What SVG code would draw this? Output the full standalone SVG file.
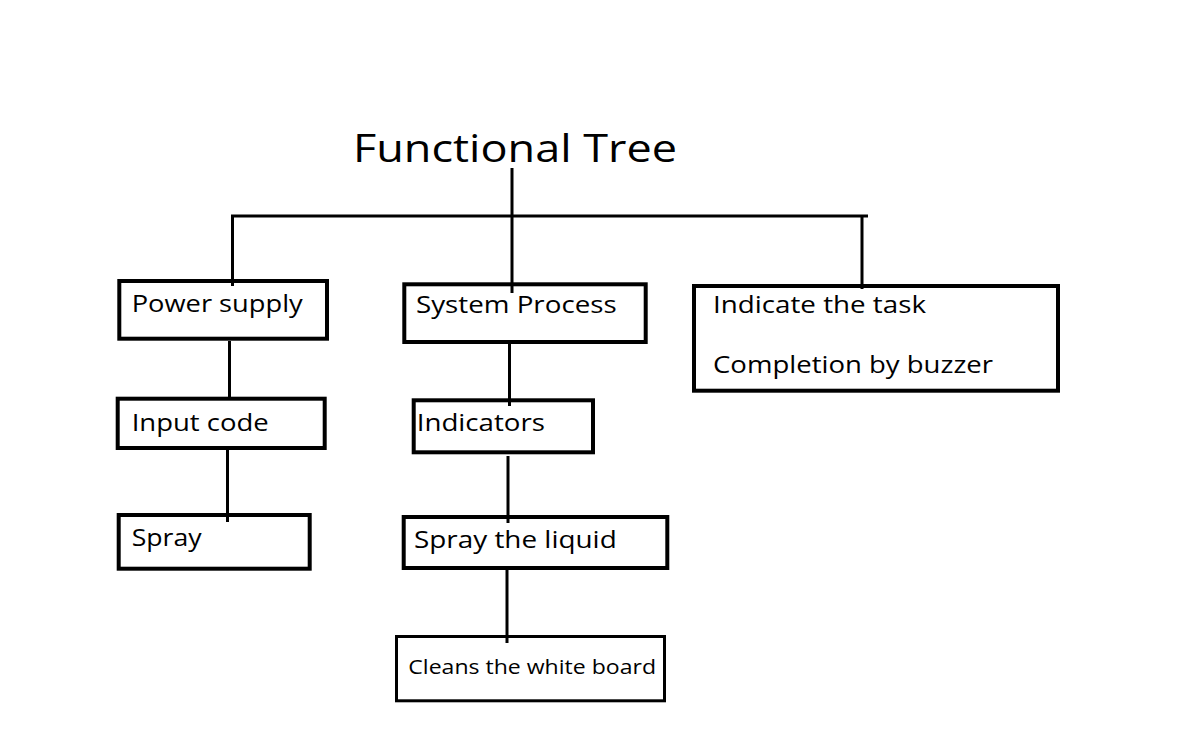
<svg xmlns="http://www.w3.org/2000/svg" width="1196" height="730" viewBox="0 0 1196 730">
<style>
.box{fill:#fff;stroke:#000;stroke-width:4}
.thin{stroke-width:3}
.lbl{font-family:"Open Sans","Noto Sans","Liberation Sans",sans-serif;font-size:24px;fill:#000}
.sm{font-size:20.5px}
.title{font-family:"Open Sans","Noto Sans","Liberation Sans",sans-serif;font-size:39px;fill:#000}
.conn line{stroke:#000;stroke-width:3}
</style>
<rect width="1196" height="730" fill="#fff"/>
<g id="title"><text class="title" x="353" y="161.7" textLength="324" lengthAdjust="spacingAndGlyphs">Functional Tree</text></g>
<g id="power"><rect class="box" x="119.3" y="281" width="207.7" height="57.7"/><text class="lbl" x="131.7" y="311.7" textLength="171" lengthAdjust="spacingAndGlyphs">Power supply</text></g>
<g id="system"><rect class="box" x="404.3" y="284.3" width="241.4" height="57.7"/><text class="lbl" x="416" y="313.3" textLength="200.7" lengthAdjust="spacingAndGlyphs">System Process</text></g>
<g id="indicate"><rect class="box" x="694" y="286" width="364" height="104.7"/><text class="lbl" x="713" y="313" textLength="213" lengthAdjust="spacingAndGlyphs">Indicate the task</text><text class="lbl" x="713" y="373" textLength="280" lengthAdjust="spacingAndGlyphs">Completion by buzzer</text></g>
<g id="input"><rect class="box" x="117.7" y="398.7" width="207" height="49.3"/><text class="lbl" x="131.7" y="430.7" textLength="137" lengthAdjust="spacingAndGlyphs">Input code</text></g>
<g id="indicators"><rect class="box" x="413.7" y="400.3" width="179.3" height="52"/><text class="lbl" x="416.7" y="430.7" textLength="128.3" lengthAdjust="spacingAndGlyphs">Indicators</text></g>
<g id="spray"><rect class="box" x="118.7" y="515" width="191" height="53.7"/><text class="lbl" x="131.7" y="545.7" textLength="70" lengthAdjust="spacingAndGlyphs">Spray</text></g>
<g id="spray-liquid"><rect class="box" x="403.7" y="517" width="263.6" height="51"/><text class="lbl" x="414" y="548.3" textLength="202.7" lengthAdjust="spacingAndGlyphs">Spray the liquid</text></g>
<g id="cleans"><rect class="box thin" x="396.5" y="636.5" width="268" height="64.3"/><text class="lbl sm" x="408.3" y="674" textLength="247.7" lengthAdjust="spacingAndGlyphs">Cleans the white board</text></g>
<g id="connectors" class="conn">
<line x1="512" y1="168" x2="512" y2="293"/>
<line x1="231" y1="216" x2="868" y2="216"/>
<line x1="232.5" y1="216" x2="232.5" y2="286"/>
<line x1="862" y1="216" x2="862" y2="289"/>
<line x1="229.5" y1="341" x2="229.5" y2="397"/>
<line x1="227.5" y1="450" x2="227.5" y2="522"/>
<line x1="509.5" y1="344" x2="509.5" y2="406"/>
<line x1="508" y1="456" x2="508" y2="523"/>
<line x1="507" y1="570" x2="507" y2="643"/>
</g>
</svg>
